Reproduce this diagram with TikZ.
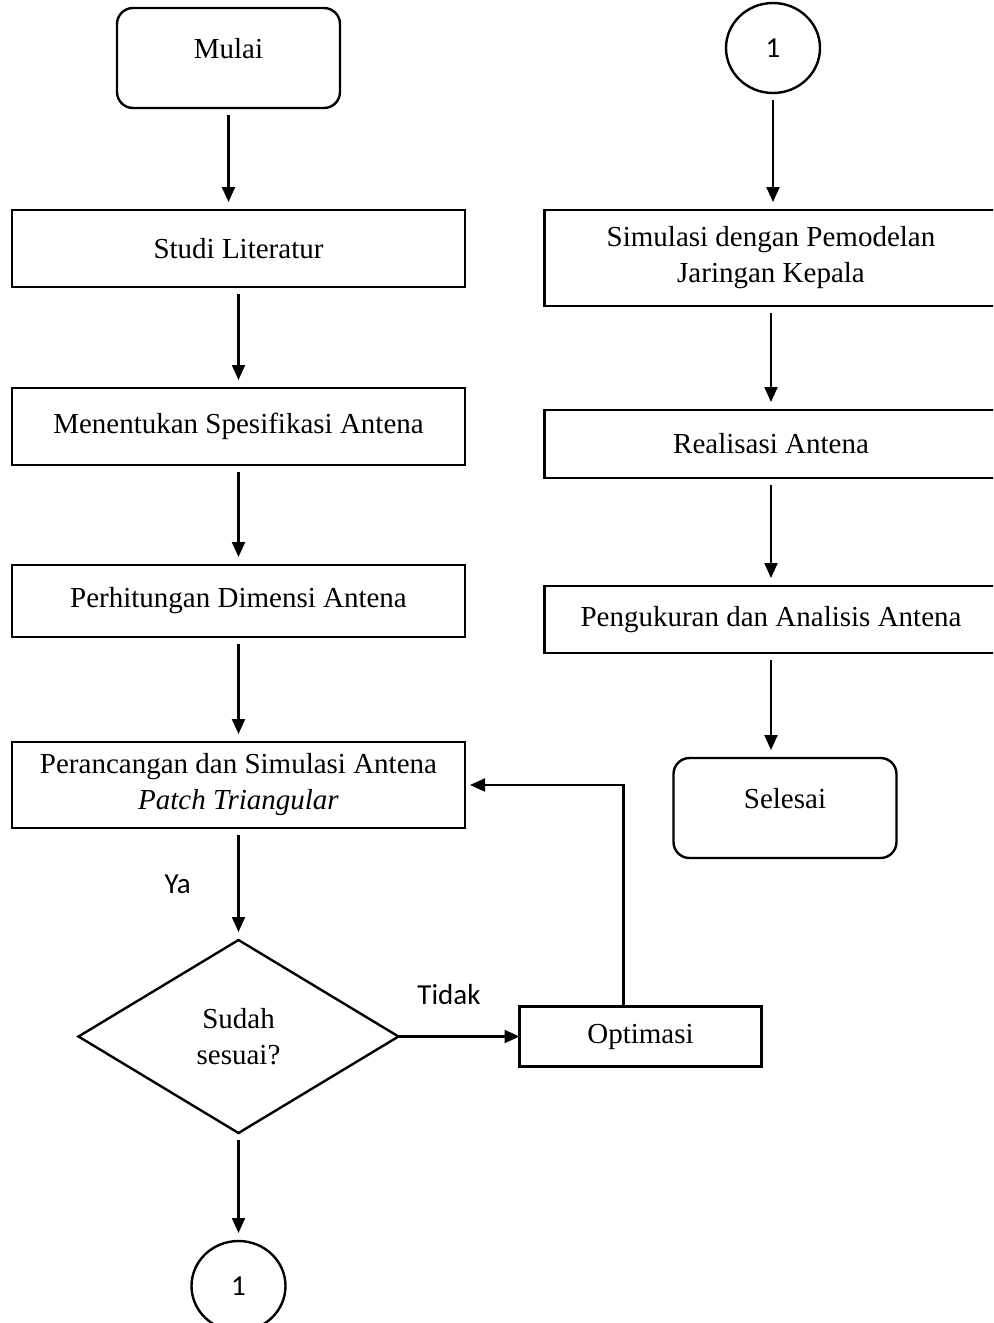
\documentclass[tikz,border=0pt]{standalone}
\usepackage{fontspec}
\setmainfont{Liberation Serif}
\newfontfamily\sansfont{Carlito}
\usepackage{tikz}
\usetikzlibrary{arrows.meta,positioning,shapes.geometric}

\begin{document}
\begin{tikzpicture}[node distance=50pt,
  font=\fontsize{14.5}{18}\selectfont,
  >={Triangle[length=7.5pt,width=6.5pt]},
  proses/.style={rectangle,draw,line width=1.2pt,minimum width=226.5pt,align=center,inner sep=0pt,outer sep=0pt},
  terminal/.style={rectangle,rounded corners=8pt,draw,line width=1.2pt,minimum width=111.5pt,minimum height=50pt,text depth=10pt,outer sep=0pt},
  konektor/.style={ellipse,draw,line width=1.2pt,minimum width=47pt,minimum height=45pt,inner sep=0pt,outer sep=0pt,font=\sansfont\fontsize{14.5}{18}\selectfont},
  keputusan/.style={diamond,draw,line width=1.2pt,minimum width=160pt,minimum height=96.5pt,inner sep=0pt,outer sep=0pt,aspect=2,align=center},
  panah/.style={->,line width=1.1pt,shorten <=3.5pt,shorten >=4pt},
  ket/.style={font=\sansfont\fontsize{14.5}{18}\selectfont}]

\useasboundingbox (0pt,0pt) rectangle (496.5pt,-661.5pt);
\clip (0pt,0pt) rectangle (496.5pt,-661.5pt);

% kolom kiri
\node(mulai)[terminal] at (114.25pt,-29pt){Mulai};

\node(studi)[proses,minimum height=38.5pt,below=51pt of mulai,xshift=5pt]{Studi Literatur};

\node(menent)[proses,minimum height=38.5pt,below=50.5pt of studi]{Menentukan Spesifikasi Antena};

\node(perhit)[proses,minimum height=36pt,below=50pt of menent]{Perhitungan Dimensi Antena};

\node(peranc)[proses,minimum height=43pt,below=52.5pt of perhit]{Perancangan dan Simulasi Antena\\\textit{Patch Triangular}};

\node(cek)[keputusan,below=56pt of peranc]{Sudah\\sesuai?};

\node(optim)[proses,minimum width=121pt,minimum height=30pt,right=60.5pt of cek]{Optimasi};

\node(lanjut)[konektor,below=54pt of cek]{1};

% kolom kanan
\node(sambung)[konektor,right=193pt of mulai,yshift=5pt]{1};

\node(simul)[proses,minimum height=48pt,below=58.5pt of sambung,xshift=-1pt]{Simulasi dengan Pemodelan\\Jaringan Kepala};

\node(realis)[proses,minimum height=34pt,below=52pt of simul]{Realisasi Antena};

\node(ukur)[proses,minimum height=33.5pt,below=54pt of realis]{Pengukuran dan Analisis Antena};

\node(selesai)[terminal,below=52.5pt of ukur,xshift=7pt]{Selesai};

\draw [panah] (mulai.south) -- (mulai.south |- studi.north);
\draw [panah] (studi) -- (menent);
\draw [panah] (menent) -- (perhit);
\draw [panah] (perhit) -- (peranc);
\draw [panah] (peranc) -- (cek) node (ya)[midway,left=20pt,ket]{Ya};
\draw [panah] (cek) -- (lanjut);
\draw [panah,shorten <=0pt,shorten >=0pt] (cek) -- (optim) node (tidak)[midway,above=12pt,xshift=-5pt,ket]{Tidak};
\draw [panah,shorten <=0pt,shorten >=2.5pt] ([xshift=52pt]optim.north west) |- (peranc.east);

\draw [panah] (sambung.south) -- (sambung.south |- simul.north);
\draw [panah] (simul) -- (realis);
\draw [panah] (realis) -- (ukur);
\draw [panah] (ukur.south) -- (ukur.south |- selesai.north);

\end{tikzpicture}
\end{document}
